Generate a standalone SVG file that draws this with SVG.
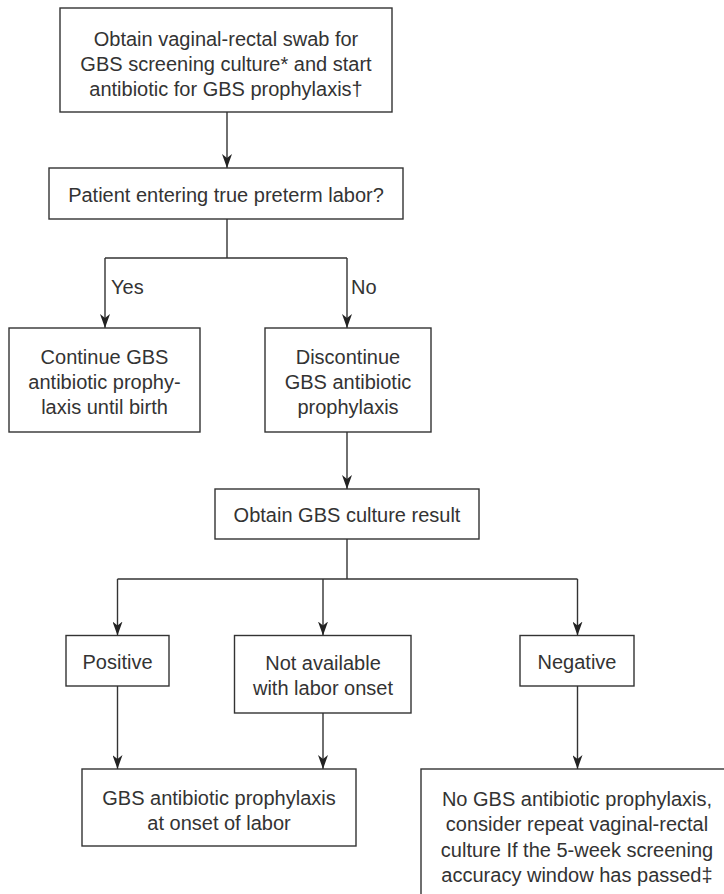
<svg xmlns="http://www.w3.org/2000/svg" width="724" height="894" viewBox="0 0 724 894">
  <style>
    .box { fill: #ffffff; stroke: #333333; stroke-width: 1.4; }
    .lbl { font-family: "Liberation Sans", Arial, Helvetica, sans-serif; font-size: 20px; fill: #333333; text-anchor: middle; }
    .tag { font-family: "Liberation Sans", Arial, Helvetica, sans-serif; font-size: 20px; fill: #333333; }
    .wire { fill: none; stroke: #333333; stroke-width: 1.4; }
  </style>
  <defs>
    <marker id="arrow" viewBox="0 0 14 10" refX="14" refY="5" markerWidth="14" markerHeight="10" markerUnits="userSpaceOnUse" orient="auto">
      <path d="M0,0 L14,5 L0,10 L4,5 z" fill="#222222"/>
    </marker>
  </defs>
  <rect width="724" height="894" fill="#ffffff"/>

  <g id="connectors">
    <path class="wire" d="M227,112 V168" marker-end="url(#arrow)"/>
    <path class="wire" d="M227,219 V258"/>
    <path class="wire" d="M105,258 H347"/>
    <path class="wire" d="M105,258 V328" marker-end="url(#arrow)"/>
    <path class="wire" d="M347,258 V328" marker-end="url(#arrow)"/>
    <path class="wire" d="M347,432 V489" marker-end="url(#arrow)"/>
    <path class="wire" d="M347,539 V579"/>
    <path class="wire" d="M117.5,579 H577.5"/>
    <path class="wire" d="M117.5,579 V635.5" marker-end="url(#arrow)"/>
    <path class="wire" d="M323,579 V635.5" marker-end="url(#arrow)"/>
    <path class="wire" d="M577.5,579 V635.5" marker-end="url(#arrow)"/>
    <path class="wire" d="M117.5,686 V769" marker-end="url(#arrow)"/>
    <path class="wire" d="M323,713 V769" marker-end="url(#arrow)"/>
    <path class="wire" d="M577.5,686 V769" marker-end="url(#arrow)"/>
    <text class="tag" x="111" y="294">Yes</text>
    <text class="tag" x="351" y="294">No</text>
  </g>

  <g id="swab">
    <rect class="box" x="60" y="8" width="332" height="104"/>
    <text class="lbl" x="226" y="46">Obtain vaginal-rectal swab for</text>
    <text class="lbl" x="226" y="71">GBS screening culture* and start</text>
    <text class="lbl" x="226" y="96">antibiotic for GBS prophylaxis†</text>
  </g>

  <g id="preterm">
    <rect class="box" x="49" y="168" width="354" height="51"/>
    <text class="lbl" x="226" y="202">Patient entering true preterm labor?</text>
  </g>

  <g id="continue">
    <rect class="box" x="9" y="328" width="191" height="104"/>
    <text class="lbl" x="104.5" y="364">Continue GBS</text>
    <text class="lbl" x="104.5" y="389">antibiotic prophy-</text>
    <text class="lbl" x="104.5" y="414">laxis until birth</text>
  </g>

  <g id="discontinue">
    <rect class="box" x="265" y="328" width="166" height="104"/>
    <text class="lbl" x="348" y="364">Discontinue</text>
    <text class="lbl" x="348" y="389">GBS antibiotic</text>
    <text class="lbl" x="348" y="414">prophylaxis</text>
  </g>

  <g id="result">
    <rect class="box" x="215" y="489" width="264" height="50"/>
    <text class="lbl" x="347" y="522">Obtain GBS culture result</text>
  </g>

  <g id="positive">
    <rect class="box" x="66" y="635.5" width="103" height="50.5"/>
    <text class="lbl" x="117.5" y="669">Positive</text>
  </g>

  <g id="unavailable">
    <rect class="box" x="234.5" y="635.5" width="176.5" height="77.5"/>
    <text class="lbl" x="323" y="670">Not available</text>
    <text class="lbl" x="323" y="695">with labor onset</text>
  </g>

  <g id="negative">
    <rect class="box" x="520" y="635.5" width="114" height="50.5"/>
    <text class="lbl" x="577" y="669">Negative</text>
  </g>

  <g id="prophylaxis">
    <rect class="box" x="82" y="769" width="274" height="77"/>
    <text class="lbl" x="219" y="805">GBS antibiotic prophylaxis</text>
    <text class="lbl" x="219" y="830">at onset of labor</text>
  </g>

  <g id="no-prophylaxis">
    <rect class="box" x="421" y="769" width="312" height="140"/>
    <text class="lbl" x="577" y="806">No GBS antibiotic prophylaxis,</text>
    <text class="lbl" x="577" y="831">consider repeat vaginal-rectal</text>
    <text class="lbl" x="577" y="857">culture If the 5-week screening</text>
    <text class="lbl" x="577" y="882">accuracy window has passed‡</text>
  </g>
</svg>
